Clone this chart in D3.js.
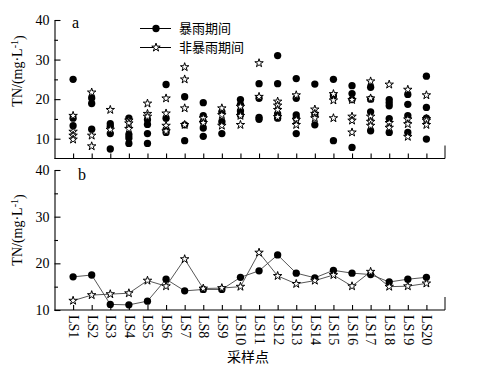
<!DOCTYPE html>
<html><head><meta charset="utf-8">
<script src="https://cdn.jsdelivr.net/npm/d3@7"></script>
<style>
body{margin:0;background:#fff;}
svg{display:block;}
text{font-family:"Liberation Serif","Times New Roman",serif;fill:#000;}
.cjk{font-family:"Noto Sans CJK SC",sans-serif;}
</style></head>
<body><svg id="c" width="477" height="372"></svg>
<script>
const sites = ["LS1","LS2","LS3","LS4","LS5","LS6","LS7","LS8","LS9","LS10","LS11","LS12","LS13","LS14","LS15","LS16","LS17","LS18","LS19","LS20"];
// panel a: individual measurements (TN, mg/L)
const stormValues = [
  [25.0,15.2,13.3],[20.3,18.9,12.4],[13.8,13.1,11.3,7.4],[15.2,11.0,10.2,8.8],[14.8,13.6,11.3,8.8],
  [23.7,15.2,12.3,11.6],[20.6,13.5,9.5],[19.1,15.8,14.3,12.7,10.6],[16.8,14.3,11.3],[19.9,18.6,17.0,16.0],
  [23.9,20.2,15.4,14.9],[31.0,23.9,16.3,15.2],[25.2,20.2,16.0,15.2,11.3],[23.8,16.0,13.5],[25.0,20.8,9.5],
  [23.4,21.4,19.9,7.8],[23.0,20.0,16.8,12.0],[19.9,19.1,18.3,15.1,11.6],[21.2,18.7,15.8,11.6],[25.8,17.9,15.2,9.9]
];
const nonStormValues = [
  [15.8,11.8,10.8,9.8],[21.7,10.8,8.1],[17.3,12.3],[14.6,13.9,12.5],[18.9,16.3,15.6],
  [20.2,16.4,13.3,11.9],[28.1,25.0,17.7,13.5],[15.2,14.0],[17.7,16.0,13.3],[18.1,15.8,13.5],
  [29.1,20.6],[19.4,18.4,17.3,15.5],[21.0,14.8,13.5],[17.4,16.3,15.2],[21.3,19.7,15.2],
  [19.8,15.6,14.6,11.6],[24.5,20.2,15.6,14.3,13.3],[23.7,14.0,12.8],[22.4,14.9,13.7,10.5],[21.0,15.0,14.6,13.5]
];
// panel b: means
const stormMean =    [17.1,17.5,11.2,11.1,11.9,16.6,14.1,14.4,14.4,17.0,18.4,21.8,17.9,16.9,18.5,17.9,17.6,16.0,16.6,17.0];
const nonStormMean = [12.0,13.2,13.4,13.6,16.3,15.1,20.9,14.6,14.7,15.0,22.3,17.3,15.6,16.3,17.5,15.1,18.2,15.0,15.1,15.7];
const yMajorTicks = [10,20,30,40];
const yMinorTicksA = [15,25,35];
const yMinorTicksB = [15,25,35];
const legendLabels = ["暴雨期间","非暴雨期间"];
const yLabel = "TN/(mg·L";
const xLabel = "采样点";

const SERIF = '"Liberation Serif","Times New Roman",serif';
const svg = d3.select("#c");
const L = 54.5, R = 445;
const x = d3.scalePoint().domain(sites).range([L, R]).padding(1);
const yA = d3.scaleLinear().domain([5,40]).range([158.5,20]);
const yB = d3.scaleLinear().domain([10,40]).range([310,170]);

const circleSym = d3.symbol().type(d3.symbolCircle).size(42);
const starSym = d3.symbol().type(d3.symbolStar).size(22);

function drawAxes(y, minor, bottomY, labels){
  const ga = svg.append("g").attr("transform",`translate(${L},0)`)
    .call(d3.axisLeft(y).tickValues(yMajorTicks).tickSize(-6).tickSizeOuter(0).tickPadding(5));
  ga.attr("font-family",SERIF);
  ga.selectAll("text").style("font-size","14px").style("font-family",SERIF);
  const gm = svg.append("g").attr("transform",`translate(${L},0)`)
    .call(d3.axisLeft(y).tickValues(minor).tickSize(-3.5).tickFormat("").tickSizeOuter(0));
  gm.select(".domain").remove();
  const gx = svg.append("g").attr("transform",`translate(0,${bottomY})`)
    .call(d3.axisBottom(x).tickSize(-5).tickSizeOuter(0));
  gx.attr("font-family",SERIF);
  gx.select(".domain").attr("d",`M${L},0H${R}`);
  if(labels){
    gx.selectAll("text").attr("transform","rotate(90)").attr("x",5).attr("y",0).attr("dy","0.33em")
      .style("text-anchor","start").style("font-size","14px").style("font-family",SERIF);
  } else {
    gx.selectAll("text").remove();
  }
  gx.append("line").attr("x1",x.range()[1]).attr("x2",x.range()[1]).attr("y1",0).attr("y2",-13).attr("stroke","#000");
  svg.selectAll(".domain, .tick line").attr("stroke","#000").attr("stroke-width",1.1);
}

drawAxes(yA, yMinorTicksA, yA.range()[0], false);
drawAxes(yB, yMinorTicksB, yB.range()[0], true);

// panel a scatter
const gA = svg.append("g");
sites.forEach((s,i)=>{
  stormValues[i].forEach(v=>{
    gA.append("path").attr("d",circleSym()).attr("transform",`translate(${x(s)},${yA(v)})`).attr("fill","#000");
  });
});
sites.forEach((s,i)=>{
  nonStormValues[i].forEach(v=>{
    gA.append("path").attr("d",starSym()).attr("transform",`translate(${x(s)},${yA(v)})`)
      .attr("fill","#fff").attr("stroke","#000").attr("stroke-width",1);
  });
});

// panel b lines
const line = (y)=> d3.line().x((d,i)=>x(sites[i])).y(d=>y(d));
svg.append("path").datum(stormMean).attr("d",line(yB)).attr("fill","none").attr("stroke","#444").attr("stroke-width",0.9);
svg.append("path").datum(nonStormMean).attr("d",line(yB)).attr("fill","none").attr("stroke","#444").attr("stroke-width",0.9);
stormMean.forEach((v,i)=>{
  svg.append("path").attr("d",circleSym()).attr("transform",`translate(${x(sites[i])},${yB(v)})`).attr("fill","#000");
});
nonStormMean.forEach((v,i)=>{
  svg.append("path").attr("d",starSym()).attr("transform",`translate(${x(sites[i])},${yB(v)})`)
    .attr("fill","#fff").attr("stroke","#000").attr("stroke-width",1);
});

// panel letters
svg.append("text").attr("x",72).attr("y",28).style("font-size","16px").text("a");
svg.append("text").attr("x",78).attr("y",180).style("font-size","16px").text("b");

// y labels
function yTitle(cx, cy){
  const t = svg.append("text").attr("transform",`translate(${cx},${cy}) rotate(-90)`)
    .attr("text-anchor","middle").style("font-size","14px");
  t.append("tspan").text(yLabel);
  t.append("tspan").attr("dy","-0.45em").style("font-size","10px").text("-1");
  t.append("tspan").attr("dy","0.45em").text(")");
}
yTitle(22, 71);
yTitle(22, 230);

// x title
svg.append("text").attr("class","cjk").attr("x",248).attr("y",362).attr("text-anchor","middle")
  .style("font-size","14px").text(xLabel);

// legend
const lg = svg.append("g");
[0,1].forEach(k=>{
  const yy = k===0 ? 28.5 : 47.5;
  lg.append("line").attr("x1",140).attr("x2",171).attr("y1",yy).attr("y2",yy).attr("stroke","#000").attr("stroke-width",1);
  if(k===0) lg.append("path").attr("d",circleSym()).attr("transform",`translate(156,${yy})`).attr("fill","#000");
  else lg.append("path").attr("d",starSym()).attr("transform",`translate(156,${yy})`).attr("fill","#fff").attr("stroke","#000");
  lg.append("text").attr("class","cjk").attr("x",179).attr("y",yy).attr("dy","0.36em")
    .style("font-size","13px").text(legendLabels[k]);
});
</script></body></html>
